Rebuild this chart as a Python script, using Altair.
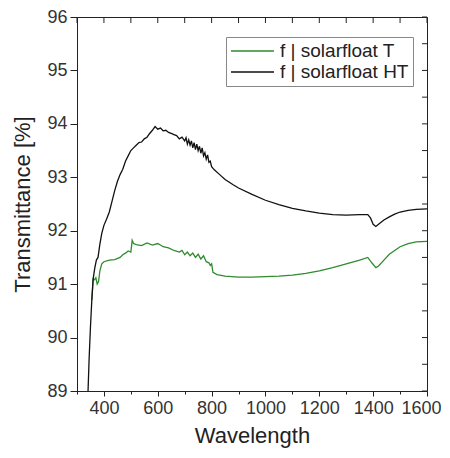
import altair as alt
import pandas as pd

# Series: f | solarfloat HT (black)
wl_HT = [341, 345, 350, 355, 360, 366, 372, 378, 385, 392, 400, 410, 420, 430, 440, 450, 460, 470,
         480, 490, 500, 510, 520, 530, 540, 550, 560, 570, 580, 590, 600, 610, 620, 630, 640, 650,
         660, 670, 680, 690, 700, 705, 710, 715, 720, 725, 730, 735, 740, 745, 750, 755, 760, 765,
         770, 775, 780, 785, 790, 795, 800, 810, 830, 850,
         880, 900, 950, 1000, 1050, 1100, 1150, 1200, 1250, 1300, 1350, 1380, 1390, 1400, 1410,
         1420, 1440, 1460, 1480, 1500, 1530, 1560, 1600]
T_HT = [89.0, 89.6, 90.2, 90.7, 91.1, 91.3, 91.45, 91.5, 91.75, 91.95, 92.1, 92.22, 92.35, 92.55,
        92.75, 92.92, 93.05, 93.15, 93.3, 93.4, 93.5, 93.55, 93.6, 93.65, 93.66, 93.72, 93.75,
        93.82, 93.88, 93.95, 93.9, 93.92, 93.87, 93.88, 93.84, 93.82, 93.8, 93.78, 93.72, 93.75,
        93.68, 93.74, 93.62, 93.7, 93.6, 93.68, 93.55, 93.65, 93.52, 93.62, 93.5, 93.58, 93.45,
        93.55, 93.4, 93.46, 93.34, 93.42, 93.28, 93.3, 93.2, 93.14, 93.05,
        92.96, 92.86, 92.8, 92.68, 92.57, 92.49, 92.42, 92.37, 92.33, 92.3, 92.29, 92.3, 92.3,
        92.24, 92.12, 92.08, 92.12, 92.2, 92.26, 92.31, 92.35, 92.38, 92.4, 92.41]

# Series: f | solarfloat T (green)
wl_T = [355, 360, 365, 370, 375, 380, 385, 392, 400, 420, 440, 460, 470, 480, 490, 500, 505, 510,
        520, 540, 560, 580, 600, 620, 640, 660, 680, 690, 700, 710, 720, 730, 740, 750, 760, 770,
        780, 790, 795, 800, 805, 820, 850, 900,
        950, 1000, 1050, 1100, 1150, 1200, 1250, 1300, 1350, 1380, 1395, 1410, 1420, 1440, 1460,
        1480, 1500, 1530, 1560, 1600]
T_T = [90.7, 91.1, 91.08, 91.12, 91.0, 91.05, 91.25, 91.38, 91.42, 91.45, 91.46, 91.5, 91.55,
       91.58, 91.62, 91.6, 91.82, 91.76, 91.74, 91.72, 91.77, 91.73, 91.76, 91.7, 91.68, 91.63,
       91.6, 91.63, 91.55, 91.6, 91.53, 91.58, 91.5, 91.56, 91.47, 91.53, 91.42, 91.4, 91.35,
       91.38, 91.22, 91.18, 91.15, 91.13,
       91.13, 91.14, 91.15, 91.17, 91.2, 91.25, 91.31, 91.38, 91.45, 91.5, 91.4, 91.31, 91.34,
       91.45, 91.56, 91.63, 91.7, 91.76, 91.79, 91.8]

series_names = ["f | solarfloat T", "f | solarfloat HT"]
series_colors = ["#2e8b2e", "#111111"]

x_ticks = list(range(300, 1601, 100))
y_ticks = [89 + 0.5 * i for i in range(15)]

df_T = pd.DataFrame({"wl": wl_T, "T": T_T, "series": series_names[0]})
df_HT = pd.DataFrame({"wl": wl_HT, "T": T_HT, "series": series_names[1]})
df_xt = pd.DataFrame({"wl": x_ticks})
df_yt = pd.DataFrame({"T": y_ticks})

FONT = "Liberation Sans"
W, H = 350, 374

x_scale = alt.Scale(domain=[300, 1600], nice=False, zero=False)
y_scale = alt.Scale(domain=[89, 96], nice=False, zero=False)
color = alt.Color("series:N",
                  scale=alt.Scale(domain=series_names, range=series_colors),
                  legend=alt.Legend(title=None, orient="none", legendX=149, legendY=20,
                                    symbolType="stroke", symbolSize=1849, symbolStrokeWidth=1.5,
                                    labelFontSize=19, labelFont=FONT, labelColor="#222",
                                    strokeColor="#888", fillColor="white", padding=4,
                                    clipHeight=20, rowPadding=1, labelOffset=5))

x_axis = alt.Axis(title="Wavelength", values=x_ticks,
                  labelExpr="datum.value % 200 === 0 && datum.value >= 400 ? datum.label : ''",
                  tickSize=alt.ExprRef(expr="datum.value % 200 === 0 ? 5 : 3"),
                  labelFontSize=18, labelFont=FONT, labelColor="#333", labelPadding=3,
                  titleFontSize=22, titleFont=FONT, titleFontWeight="normal", titleColor="#222",
                  titlePadding=8, grid=False, domainColor="#222", tickColor="#222",
                  labelFlush=True, labelFlushOffset=14, labelOverlap=False, format="d")
y_axis = alt.Axis(title="Transmittance [%]", values=y_ticks,
                  labelExpr="datum.value % 1 === 0 ? datum.label : ''",
                  tickSize=alt.ExprRef(expr="datum.value % 1 === 0 ? 7 : 4"),
                  labelFontSize=18, labelFont=FONT, labelColor="#333", labelPadding=3,
                  titleFontSize=22, titleFont=FONT, titleFontWeight="normal", titleColor="#222",
                  titlePadding=12, grid=False, domainColor="#222", tickColor="#222",
                  labelFlush=False, labelOverlap=False, format="d")

line_T = alt.Chart(df_T).mark_line(strokeWidth=1.3, clip=True).encode(
    x=alt.X("wl:Q", scale=x_scale, axis=x_axis),
    y=alt.Y("T:Q", scale=y_scale, axis=y_axis),
    color=color,
)
line_HT = alt.Chart(df_HT).mark_line(strokeWidth=1.3, clip=True).encode(
    x=alt.X("wl:Q", scale=x_scale, axis=x_axis),
    y=alt.Y("T:Q", scale=y_scale, axis=y_axis),
    color=color,
)

top_ticks = alt.Chart(df_xt).mark_rule(color="#222", strokeWidth=1).encode(
    x=alt.X("wl:Q", scale=x_scale, axis=x_axis),
    y=alt.value(0), y2=alt.value(6),
)
right_ticks = alt.Chart(df_yt).mark_rule(color="#222", strokeWidth=1).encode(
    y=alt.Y("T:Q", scale=y_scale, axis=y_axis),
    x=alt.value(W - 5), x2=alt.value(W),
)

chart = alt.layer(top_ticks, right_ticks, line_T, line_HT).properties(
    width=W, height=H,
    autosize=alt.AutoSizeParams(type="none"),
    padding={"left": 69, "top": 9, "right": 15, "bottom": 59},
    background="white",
).configure_view(stroke="#222", strokeWidth=1)

chart.save("out.html", embed_options={"renderer": "svg", "actions": False})
